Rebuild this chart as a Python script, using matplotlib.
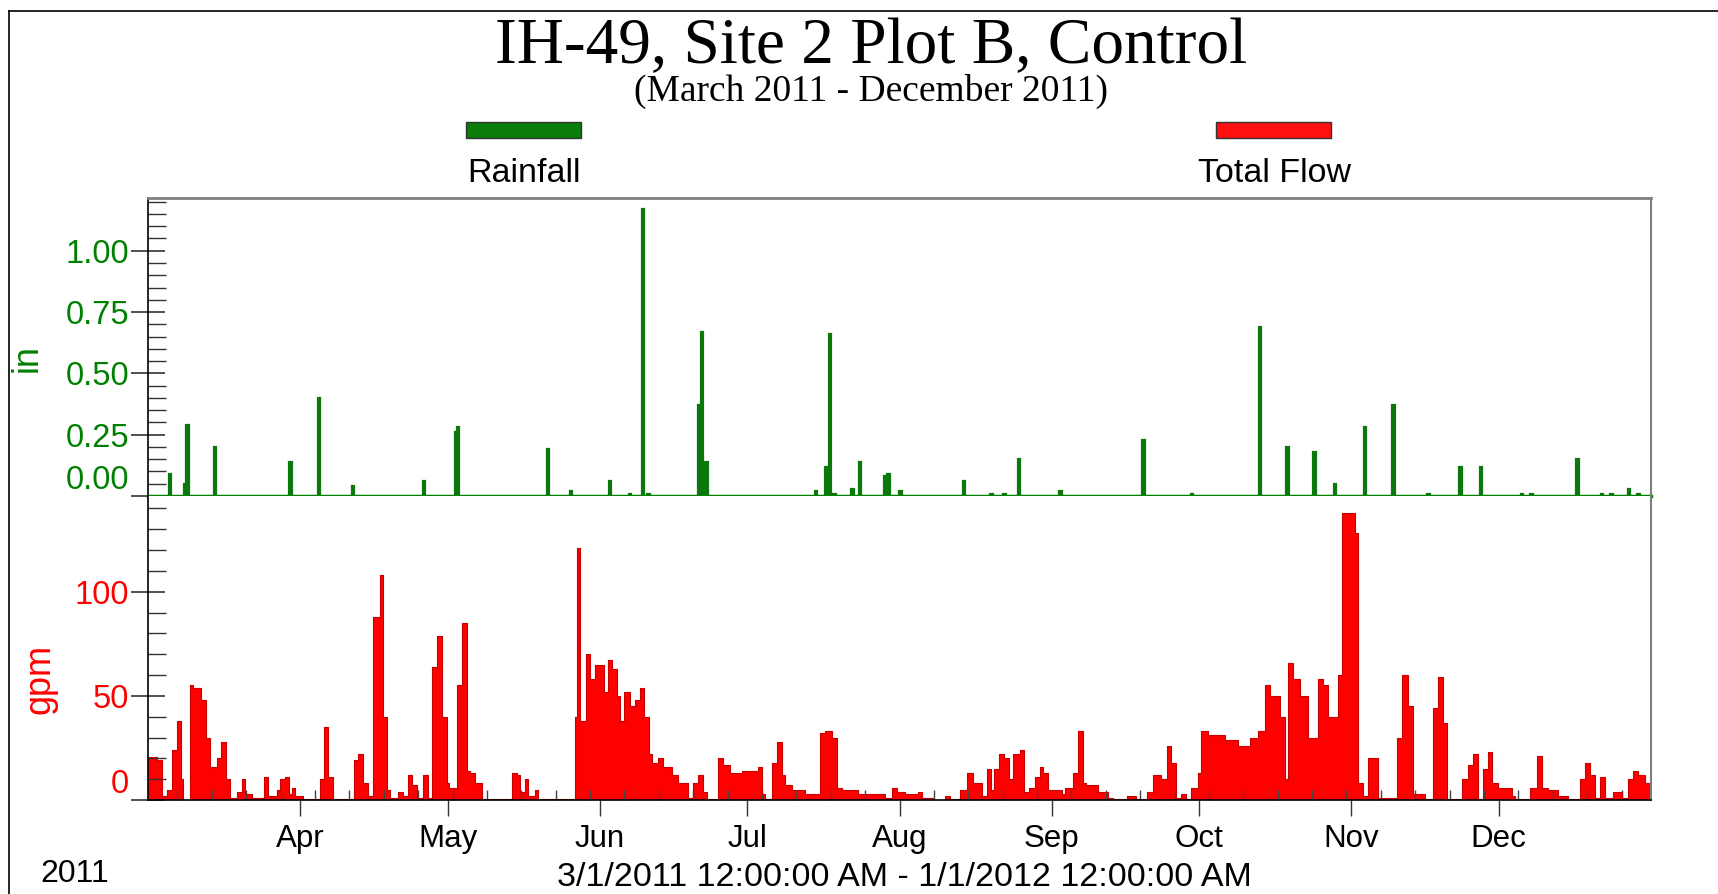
import pandas as pd
import matplotlib
matplotlib.use("Agg")
from matplotlib import pyplot as plt
import matplotlib.dates as mdates
from matplotlib.ticker import MultipleLocator
from matplotlib.patches import Rectangle
from matplotlib.lines import Line2D

# %% Data (days counted from 3/1/2011)
start = pd.Timestamp("2011-03-01")
end = pd.Timestamp("2012-01-01")

rain_day = [4.5, 7.5, 8.0, 13.6, 29.0, 34.8, 41.7, 56.2, 62.7, 63.1, 81.4, 86.1,
            94.1, 98.1, 100.8, 101.9, 112.2, 112.8, 113.7, 136.0, 138.0, 138.9,
            139.8, 143.4, 145.0, 150.1, 150.8, 153.2, 166.1, 171.7, 174.4, 177.3,
            185.8, 202.7, 212.5, 226.4, 232.0, 237.5, 241.7, 247.8, 253.6, 260.7,
            267.2, 271.4, 279.7, 281.7, 291.0, 296.0, 298.0, 301.5, 303.5]
rain_in = [0.09, 0.05, 0.29, 0.20, 0.14, 0.40, 0.04, 0.06, 0.26, 0.28, 0.19, 0.02,
           0.06, 0.01, 1.17, 0.01, 0.37, 0.67, 0.14, 0.02, 0.12, 0.66,
           0.01, 0.03, 0.14, 0.08, 0.09, 0.02, 0.06, 0.01, 0.01, 0.15,
           0.02, 0.23, 0.01, 0.69, 0.20, 0.18, 0.05, 0.28, 0.37, 0.01,
           0.12, 0.12, 0.01, 0.01, 0.15, 0.01, 0.01, 0.03, 0.01]

flow_day = [0, 1.76, 2.78, 3.80, 4.82, 5.83, 6.72, 7.19, 8.55, 9.23, 10.79, 11.74,
            12.62, 13.98, 14.86, 15.81, 16.69, 18.05, 19.06, 19.74, 21.10, 23.68,
            24.49, 26.19, 26.87, 27.88, 28.70, 29.24, 29.92, 31.61, 35.01, 35.89,
            36.70, 37.72, 42.0, 42.81, 43.83, 44.84, 45.86, 47.22, 47.90, 48.58,
            49.25, 50.95, 51.97, 52.98, 53.80, 54.68, 56.04, 56.92, 57.87, 58.75,
            59.77, 60.79, 61.26, 62.82, 63.84, 64.86, 65.54, 66.55, 67.91, 74.02,
            75.03, 75.71, 76.73, 77.43, 78.79, 79.46, 86.93, 87.27, 87.94, 89.10,
            89.98, 91.0, 92.76, 93.71, 94.52, 95.41, 96.08, 96.97, 98.12, 99.14,
            100.16, 101.04, 102.06, 102.53, 103.89, 104.90, 106.60, 107.96, 110.0,
            111.01, 112.03, 113.05, 113.72, 115.96, 117.12, 118.47, 120.85, 124.24,
            125.05, 125.6, 126.95, 127.97, 128.99, 129.67, 131.02, 133.74, 136.79,
            137.81, 139.17, 140.18, 141.20, 144.59, 150.02, 151.38, 152.4, 154.1,
            156.81, 157.49, 159.87, 162.24, 163.26, 165.29, 166.65, 168.01, 169.70,
            170.72, 171.60, 172.28, 173.23, 174.32, 175.27, 176.15, 177.51, 178.39,
            179.34, 180.56, 181.58, 182.25, 183.27, 185.99, 186.66, 188.36, 189.38,
            190.40, 191.07, 193.45, 195.48, 196.50, 199.22, 201.25, 203.29, 204.64,
            206.34, 207.36, 208.37, 209.39, 210.41, 211.43, 212.44, 213.80, 214.48,
            215.84, 219.23, 221.94, 224.32, 226.01, 227.37, 228.39, 229.41, 230.42,
            231.44, 232.1, 233.2, 234.55, 236.25, 238.28, 239.3, 240.32, 242.35,
            243.03, 245.75, 246.43, 247.44, 248.46, 250.5, 254.23, 255.24, 256.6,
            257.62, 260.0, 261.69, 262.71, 263.73, 264.4, 267.46, 268.81, 269.83,
            270.71, 271.87, 272.88, 273.56, 274.92, 277.63, 278.31, 281.36, 282.72,
            283.74, 285.1, 287.13, 289.17, 291.54, 292.56, 293.58, 294.59, 295.61,
            296.63, 298.33, 300.02, 301.38, 302.39, 303.41, 304.77, 306.0]
flow_gpm = [20.5, 19, 2, 5, 24, 38, 10, 0, 55, 54, 48, 30,
            16, 20, 28, 10, 1, 4, 10, 3, 1, 11,
            2, 5, 10, 11, 3, 6, 2, 0.5, 10, 35,
            11, 0.5, 19, 22, 8, 2, 88, 108, 40, 5,
            1, 4, 2, 12, 7, 1, 12, 1, 64, 79,
            40, 8, 6, 55, 85, 14, 13, 8, 0.5, 13,
            12, 4, 10, 2, 5, 0.3, 40, 121, 38, 70,
            58, 65, 52, 67, 63, 50, 38, 52, 45, 48,
            54, 40, 22, 18, 20, 16, 12, 8, 1,
            8, 12, 4, 0.3, 20, 17, 13, 14, 16,
            3, 0.5, 18, 28, 12, 7, 5, 3, 32,
            33, 30, 6, 5, 3, 1, 6, 4, 3,
            4, 1, 0, 2, 0.3, 5, 13, 8, 2,
            15, 5, 15, 22, 20, 10, 22, 24, 4,
            6, 11, 16, 13, 5, 3, 6, 13, 33,
            8, 7, 4, 1, 0.3, 2, 0.5, 4, 12,
            10, 26, 18, 1, 3, 0.5, 6, 13, 33,
            31, 29, 26, 30, 33, 55, 50, 50, 40,
            10, 66, 58, 50, 30, 58, 55, 40, 60,
            138, 128, 8, 2, 20, 1, 30, 60, 45,
            3, 0.3, 44, 59, 37, 0.3, 10, 17, 22,
            0.5, 15, 23, 8, 6, 2, 0.3, 6, 21,
            6, 5, 2, 0.3, 10, 18, 12, 1, 11,
            1, 4, 1, 10, 14, 12, 8, 8]

rain_dates = start + pd.to_timedelta(rain_day, unit="D")
flow_dates = start + pd.to_timedelta(flow_day, unit="D")

# %% Style
green = "#008000"
red = "#ff0000"
sans = "Liberation Sans"
serif = "Liberation Serif"
plt.rcParams["font.family"] = sans

W, H = 1718, 894
fig = plt.figure(figsize=(W / 100, H / 100), dpi=100)
fig.patch.set_facecolor("white")


def box(l, t, r, b):
    return [l / W, 1 - b / H, (r - l) / W, (b - t) / H]


ax_r = fig.add_axes(box(148, 198, 1651, 496))
ax_f = fig.add_axes(box(148, 496, 1651, 800), sharex=ax_r)

# %% Rainfall
ax_r.bar(rain_dates, rain_in, width=0.5, color="#0a780a", edgecolor="#0a780a", linewidth=1.6)
ax_r.axhline(0, color=green, lw=2.5, zorder=3, clip_on=False)
ax_r.set_ylim(0, 1.215)
ax_r.set_yticks([0, 0.25, 0.5, 0.75, 1.0], ["0.00", "0.25", "0.50", "0.75", "1.00"])
ax_r.yaxis.set_minor_locator(MultipleLocator(0.05))
ax_r.tick_params(axis="y", which="major", direction="inout", length=25, width=1.1,
                 color="#222222", labelsize=23.5, labelcolor=green, pad=1)
ax_r.tick_params(axis="y", which="minor", direction="in", length=13, width=1.0,
                 color="#333333")
ax_r.tick_params(axis="x", which="both", bottom=False, labelbottom=False)
ax_r.get_yticklabels()[0].set_va("bottom")
ax_r.spines["bottom"].set_visible(False)
ax_r.spines["top"].set_color("#7f7f7f")
ax_r.spines["right"].set_color("#7f7f7f")
ax_r.spines["top"].set_linewidth(2)
ax_r.spines["right"].set_linewidth(1.5)
ax_r.spines["left"].set_linewidth(1.2)

# %% Total flow
ax_f.fill_between(flow_dates, flow_gpm, step="post", color=red, lw=0)
ax_f.step(flow_dates, flow_gpm, where="post", color="#c80000", lw=0.8)
ax_f.set_ylim(0, 146)
ax_f.set_yticks([0, 50, 100])
ax_f.yaxis.set_minor_locator(MultipleLocator(10))
ax_f.tick_params(axis="y", which="major", direction="inout", length=25, width=1.1,
                 color="#222222", labelsize=23.5, labelcolor=red, pad=1)
ax_f.tick_params(axis="y", which="minor", direction="in", length=13, width=1.0,
                 color="#333333")
ax_f.get_yticklabels()[0].set_va("bottom")

ax_f.set_xlim(start, end)
ax_f.xaxis.set_major_locator(mdates.MonthLocator(bymonth=range(4, 13)))
ax_f.xaxis.set_major_formatter(mdates.DateFormatter("%b"))
ax_f.xaxis.set_minor_locator(mdates.WeekdayLocator(byweekday=mdates.MO))
ax_f.tick_params(axis="x", which="major", direction="out", length=11.5, width=1.0,
                 color="#333333", labelsize=22.5, pad=6)
ax_f.tick_params(axis="x", which="minor", direction="in", length=7, width=1.0,
                 color="#444444")
ax_f.spines["top"].set_visible(False)
ax_f.spines["right"].set_color("#7f7f7f")
ax_f.spines["right"].set_linewidth(1.5)
ax_f.spines["left"].set_linewidth(1.2)
ax_f.spines["bottom"].set_linewidth(1.2)

# %% Titles, legend and labels
fig.text(871 / W, 1 - 47 / H, "IH-49, Site 2 Plot B, Control", family=serif,
         size=47, ha="center", va="center")
fig.text(871 / W, 1 - 91 / H, "(March 2011 - December 2011)", family=serif,
         size=27, ha="center", va="center")

for x0, colour, label, cx in [(466, "#0a7d0a", "Rainfall", 524),
                              (1216, "#ff1010", "Total Flow", 1275)]:
    fig.patches.append(Rectangle((x0 / W, 1 - 138 / H), 115 / W, 16 / H,
                                 transform=fig.transFigure, facecolor=colour,
                                 edgecolor="#333333", lw=1))
    fig.text(cx / W, 1 - 173 / H, label, size=24.5, ha="center", va="center")

fig.text(27 / W, 1 - 358 / H, "in", color=green, size=26, rotation=90,
         ha="center", va="center")
fig.text(40 / W, 1 - 679 / H, "gpm", color=red, size=26, rotation=90,
         ha="center", va="center")

fig.text(40 / W, 1 - 874 / H, "2011", size=23, ha="left", va="center")
fig.text(904 / W, 1 - 877 / H, "3/1/2011 12:00:00 AM - 1/1/2012 12:00:00 AM",
         size=24.5, ha="center", va="center")

# outer frame
fig.add_artist(Line2D([9 / W, 1], [1 - 11 / H, 1 - 11 / H], transform=fig.transFigure,
                      color="black", lw=1.2))
fig.add_artist(Line2D([9 / W, 9 / W], [1 - 11 / H, 0], transform=fig.transFigure,
                      color="black", lw=1.2))

fig.savefig("out.png", dpi=100)
plt.close(fig)
